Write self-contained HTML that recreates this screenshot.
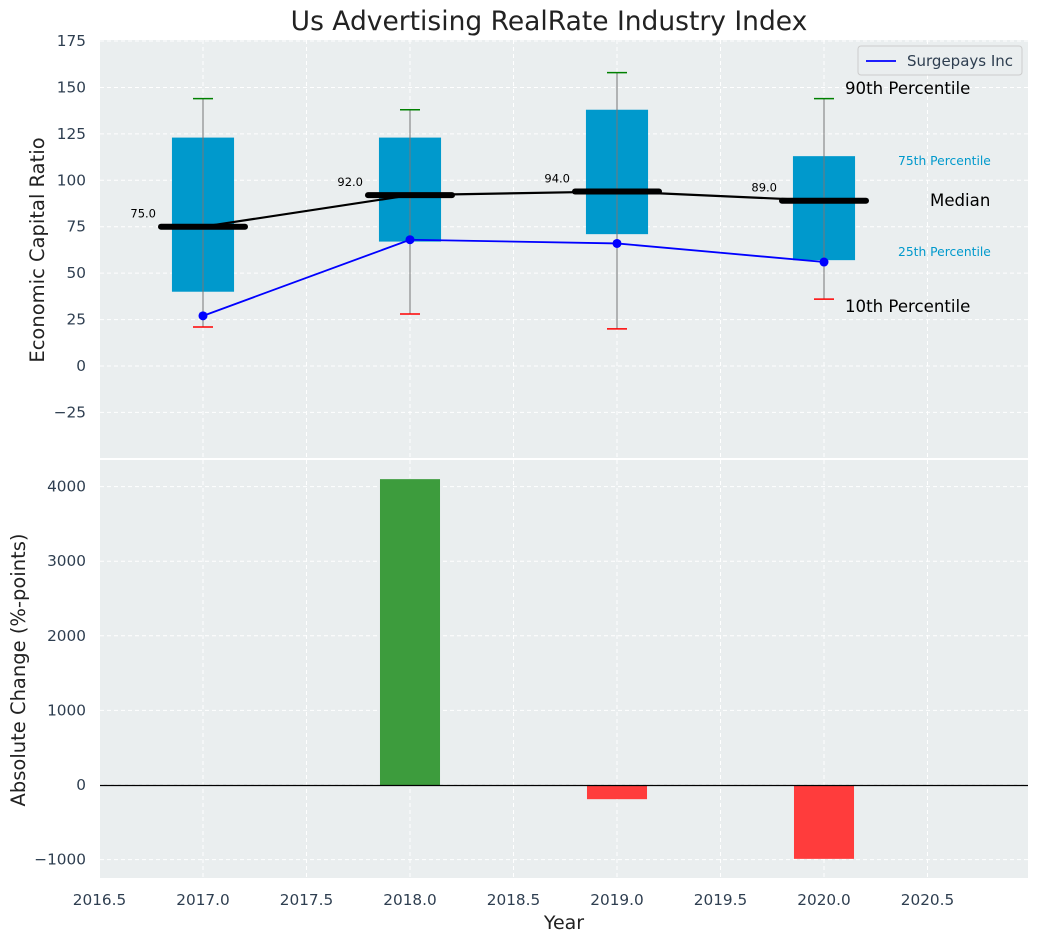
<!DOCTYPE html>
<html><head><meta charset="utf-8"><style>
body{margin:0;background:#fff;font-family:"Liberation Sans","DejaVu Sans",sans-serif}
svg text{font-family:"DejaVu Sans","Liberation Sans",sans-serif}
</style></head><body>
<svg id="c" width="1039" height="942" xmlns="http://www.w3.org/2000/svg"></svg>
<script>
const years=[2017,2018,2019,2020];
const p10=[21,28,20,36];
const q1=[40,67,71,57];
const med=[75,92,94,89];
const q3=[123,123,138,113];
const p90=[144,138,158,144];
const company=[27,68,66,56];
const change=[0,4100,-190,-990];
const xTicks=[2016.5,2017,2017.5,2018,2018.5,2019,2019.5,2020,2020.5];
const yTopTicks=[-25,0,25,50,75,100,125,150,175];
const yBotTicks=[-1000,0,1000,2000,3000,4000];

const NS="http://www.w3.org/2000/svg";
const svg=document.getElementById('c');
function el(t,a,txt){const e=document.createElementNS(NS,t);for(const k in a)e.setAttribute(k,a[k]);if(txt!==undefined)e.textContent=txt;svg.appendChild(e);return e;}
const L=100,R=1028,T1=40,B1=458,T2=460,B2=878;
const x=v=>203+(v-2017)*207;
const y1=v=>366-v*1.857;
const y2=v=>785-v*0.0746;

let e=el('rect',{x:L,y:T1,width:R-L,height:B1-T1,fill:'#eaeeef'});

e=el('rect',{x:L,y:T2,width:R-L,height:B2-T2,fill:'#eaeeef'});


xTicks.forEach(t=>{
 el('line',{x1:x(t),x2:x(t),y1:T1,y2:B1,stroke:'#fff','stroke-dasharray':'4,3','stroke-width':1});
 el('line',{x1:x(t),x2:x(t),y1:T2,y2:B2,stroke:'#fff','stroke-dasharray':'4,3','stroke-width':1});
 e=el('text',{x:x(t),y:905,'text-anchor':'middle','font-size':15.3,fill:'#2e3e50'},t.toFixed(1));
 
});
yTopTicks.forEach(t=>{
 el('line',{x1:L,x2:R,y1:y1(t),y2:y1(t),stroke:'#fff','stroke-dasharray':'4,3'});
 e=el('text',{x:86,y:y1(t)+5,'text-anchor':'end','font-size':15.3,fill:'#2e3e50'},t<0?'\u2212'+(-t):t);
 
});
yBotTicks.forEach(t=>{
 el('line',{x1:L,x2:R,y1:y2(t),y2:y2(t),stroke:'#fff','stroke-dasharray':'4,3'});
 e=el('text',{x:86,y:y2(t)+5,'text-anchor':'end','font-size':15.3,fill:'#2e3e50'},t<0?'\u2212'+(-t):t);
 
});

years.forEach((yr,i)=>{
 const cx=x(yr),hw=0.15*207;
 e=el('rect',{x:cx-hw,y:y1(q3[i]),width:2*hw,height:y1(q1[i])-y1(q3[i]),fill:'#0099cc'});
 
 e=el('line',{x1:cx,x2:cx,y1:y1(p90[i]),y2:y1(p10[i]),stroke:'#777','stroke-width':1});
 
 e=el('line',{x1:cx-10,x2:cx+10,y1:y1(p90[i]),y2:y1(p90[i]),stroke:'green','stroke-width':1.5});
 
 e=el('line',{x1:cx-10,x2:cx+10,y1:y1(p10[i]),y2:y1(p10[i]),stroke:'red','stroke-width':1.5});
 
});
e=el('polyline',{points:years.map((yr,i)=>x(yr)+','+y1(med[i])).join(' '),fill:'none',stroke:'#000','stroke-width':2.2});

years.forEach((yr,i)=>{
 const cx=x(yr);
 e=el('line',{x1:cx-42,x2:cx+42,y1:y1(med[i]),y2:y1(med[i]),stroke:'#000','stroke-width':6,'stroke-linecap':'round'});
 
 e=el('text',{x:cx-47,y:y1(med[i])-9,'text-anchor':'end','font-size':11.5,fill:'#000'},med[i].toFixed(1));
 
});
e=el('polyline',{points:years.map((yr,i)=>x(yr)+','+y1(company[i])).join(' '),fill:'none',stroke:'#0000ff','stroke-width':1.8});

years.forEach((yr,i)=>{
 e=el('circle',{cx:x(yr),cy:y1(company[i]),r:4.5,fill:'#0000ff'});
 
});
[['90th Percentile',845,94,16.6,'#000'],['75th Percentile',898,165,12.3,'#0099cc'],['Median',930,206,16.6,'#000'],['25th Percentile',898,256,12.3,'#0099cc'],['10th Percentile',845,312,16.6,'#000']].forEach(a=>{
 e=el('text',{x:a[1],y:a[2],'font-size':a[3],fill:a[4]},a[0]);
 
});
e=el('rect',{x:858,y:46,width:164,height:29,rx:3,fill:'#eaeeef',stroke:'#ccc'});

el('line',{x1:866,x2:896,y1:61,y2:61,stroke:'#0000ff','stroke-width':1.8});
e=el('text',{x:907,y:66,'font-size':15,fill:'#2e3e50'},'Surgepays Inc');


years.forEach((yr,i)=>{
 if(!change[i])return;
 const v=change[i],hw=0.145*207;
 e=el('rect',{x:x(yr)-hw,y:Math.min(y2(v),y2(0)),width:2*hw,height:Math.abs(y2(v)-y2(0)),fill:v>0?'#3d9c3d':'#ff3c3c'});
 
});
el('line',{x1:L,x2:R,y1:y2(0)+0.5,y2:y2(0)+0.5,stroke:'#000','stroke-width':1.2});

e=el('text',{x:549,y:30,'text-anchor':'middle','font-size':26.5,fill:'#222'},'Us Advertising RealRate Industry Index');

e=el('text',{x:0,y:0,'text-anchor':'middle','font-size':19.5,fill:'#222',transform:'translate(44,250) rotate(-90)'},'Economic Capital Ratio');

e=el('text',{x:0,y:0,'text-anchor':'middle','font-size':19.5,fill:'#222',transform:'translate(25,670) rotate(-90)'},'Absolute Change (%-points)');

e=el('text',{x:564,y:929,'text-anchor':'middle','font-size':19,fill:'#222'},'Year');

</script>
</body></html>
